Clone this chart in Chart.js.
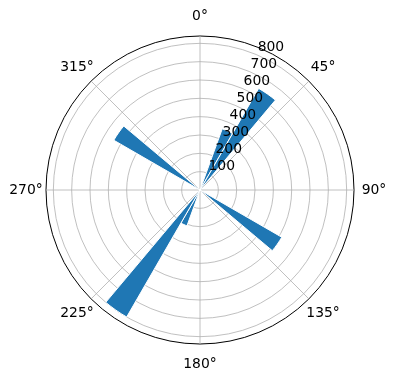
<!DOCTYPE html>
<html lang="en">
<head>
    <meta charset="UTF-8">
    <title>Polar bar chart</title>
    <script src="https://cdn.jsdelivr.net/npm/chart.js"></script>
    <style>
        html, body { margin: 0; padding: 0; background: #fff; }
        #wrap { width: 396px; height: 380px; }
    </style>
</head>
<body>
    <div id="wrap"><canvas id="polarChart"></canvas></div>

    <script>
        // 10 degree bins, clockwise from north
        const binLabels = ['0°', '10°', '20°', '30°', '40°', '50°', '60°', '70°', '80°', '90°',
                           '100°', '110°', '120°', '130°', '140°', '150°', '160°', '170°', '180°', '190°',
                           '200°', '210°', '220°', '230°', '240°', '250°', '260°', '270°', '280°', '290°',
                           '300°', '310°', '320°', '330°', '340°', '350°'];
        const counts = [0, 0, 355, 640, 0, 0, 0, 0, 0, 0,
                        0, 0, 515, 0, 0, 0, 0, 0, 0, 0,
                        208, 800, 0, 0, 0, 0, 0, 0, 0, 0,
                        543, 0, 0, 0, 0, 0];

        const radialTicks = [100, 200, 300, 400, 500, 600, 700, 800];
        const radialMax = 840;
        const angleTicks = [0, 45, 90, 135, 180, 225, 270, 315];
        const rLabelAngle = 22.5;

        const FONT = '13.9px "DejaVu Sans"';

        const polarDecor = {
            id: 'polarDecor',
            beforeDatasetsDraw(chart) {
                const r = chart.scales.r;
                const ctx = chart.ctx;
                const outer = r.getDistanceFromCenterForValue(radialMax);
                ctx.save();
                ctx.strokeStyle = '#b0b0b0';
                ctx.lineWidth = 0.8;
                angleTicks.forEach(deg => {
                    const a = (deg - 90) * Math.PI / 180;
                    ctx.beginPath();
                    ctx.moveTo(r.xCenter, r.yCenter);
                    ctx.lineTo(r.xCenter + outer * Math.cos(a), r.yCenter + outer * Math.sin(a));
                    ctx.stroke();
                });
                ctx.restore();
            },
            afterDatasetsDraw(chart) {
                const r = chart.scales.r;
                const ctx = chart.ctx;
                ctx.save();
                ctx.fillStyle = '#000';
                ctx.font = FONT;

                // angle labels outside the circle
                ctx.textAlign = 'center';
                ctx.textBaseline = 'middle';
                const lr = r.drawingArea + 20;
                angleTicks.forEach(deg => {
                    const a = (deg - 90) * Math.PI / 180;
                    ctx.fillText(deg + '°', r.xCenter + lr * Math.cos(a), r.yCenter + lr * Math.sin(a));
                });

                // radial labels along 22.5°
                ctx.textAlign = 'left';
                const s = Math.sin(rLabelAngle * Math.PI / 180);
                const c = Math.cos(rLabelAngle * Math.PI / 180);
                radialTicks.forEach(v => {
                    const d = r.getDistanceFromCenterForValue(v);
                    ctx.fillText(String(v), r.xCenter + d * s + 1.5, r.yCenter - d * c - 7);
                });
                ctx.restore();
            }
        };

        new Chart(document.getElementById('polarChart'), {
            type: 'polarArea',
            data: {
                labels: binLabels,
                datasets: [{
                    data: counts,
                    backgroundColor: '#1f77b4',
                    borderColor: '#ffffff',
                    borderWidth: ctx => (ctx.raw > 0 ? 1 : 0)
                }]
            },
            options: {
                responsive: true,
                maintainAspectRatio: false,
                animation: false,
                layout: { padding: { left: 40, right: 36, top: 36, bottom: 36 } },
                plugins: {
                    legend: { display: false },
                    tooltip: { enabled: false }
                },
                scales: {
                    r: {
                        min: 0,
                        max: radialMax,
                        startAngle: 0,
                        afterBuildTicks: scale => {
                            scale.ticks = [0].concat(radialTicks, [radialMax]).map(v => ({ value: v }));
                        },
                        ticks: { display: false },
                        grid: {
                            circular: true,
                            color: ctx => (ctx.tick && ctx.tick.value === radialMax ? '#000000' : '#b0b0b0'),
                            lineWidth: ctx => (ctx.tick && ctx.tick.value === radialMax ? 1 : 0.8)
                        },
                        angleLines: { display: false },
                        pointLabels: { display: false }
                    }
                }
            },
            plugins: [polarDecor]
        });
    </script>
</body>
</html>
